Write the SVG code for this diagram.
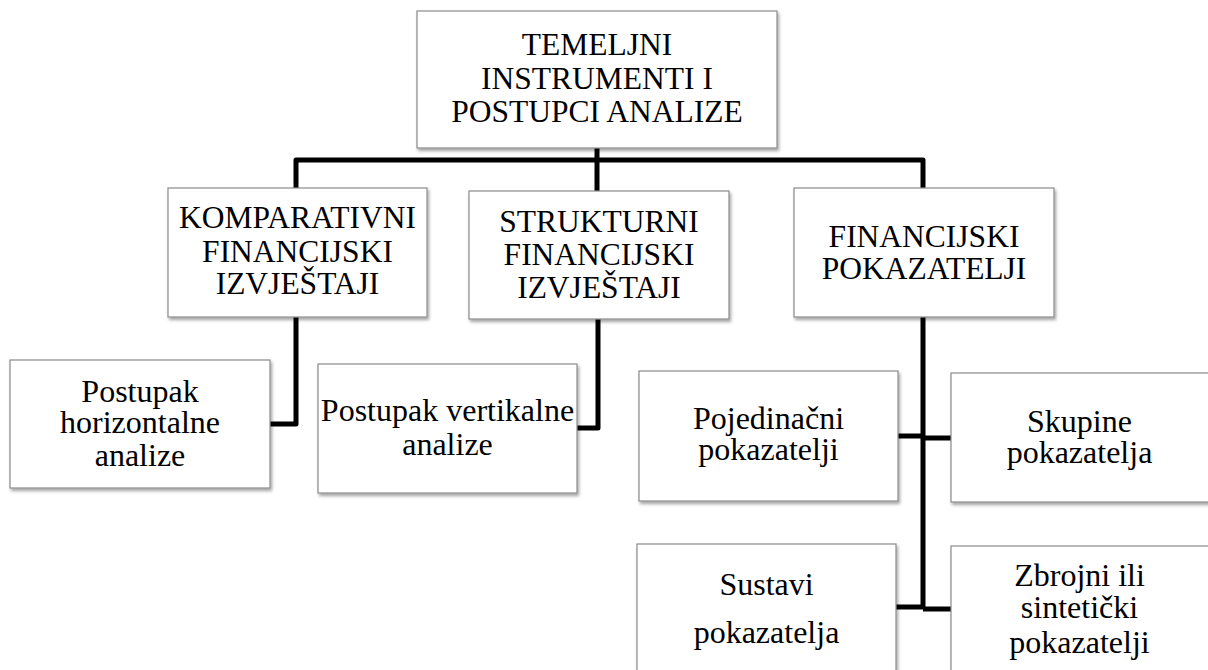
<svg xmlns="http://www.w3.org/2000/svg" width="1208" height="670" viewBox="0 0 1208 670">
<defs>
<filter id="sh" x="-10%" y="-10%" width="120%" height="130%">
<feDropShadow dx="1.5" dy="2.5" stdDeviation="1.5" flood-color="#000" flood-opacity="0.35"/>
</filter>
<style>
.box{fill:#fff;stroke:#8a8a8a;stroke-width:1.2;filter:url(#sh);}
.t{font-family:"Liberation Serif","Times New Roman",serif;font-size:31.5px;fill:#000;text-anchor:middle;}
.l{font-size:32px;}
.c{fill:none;stroke:#000;stroke-width:5;stroke-linejoin:round;}
</style>
</defs>
<rect width="1208" height="670" fill="#fff"/>
<g id="connectors">
<path class="c" d="M296,188 V160 H923 V188"/>
<path class="c" d="M597,148 V191"/>
<path class="c" d="M296,317 V424 H270"/>
<path class="c" d="M598,319 V428 H577"/>
<path class="c" d="M923,317 V608"/>
<path class="c" d="M898,436 H923"/>
<path class="c" d="M923,438 H951"/>
<path class="c" d="M896,607 H923"/>
<path class="c" d="M923,609 H951"/>
</g>
<g id="n-top">
<rect class="box" x="417" y="11" width="360" height="137"/>
<text class="t" x="597" y="55">TEMELJNI</text>
<text class="t" x="597" y="89">INSTRUMENTI I</text>
<text class="t" x="597" y="122">POSTUPCI ANALIZE</text>
</g>
<g id="n-komparativni">
<rect class="box" x="168" y="188" width="259" height="129"/>
<text class="t" x="297.5" y="228">KOMPARATIVNI</text>
<text class="t" x="297.5" y="262">FINANCIJSKI</text>
<text class="t" x="297.5" y="294">IZVJEŠTAJI</text>
</g>
<g id="n-strukturni">
<rect class="box" x="469" y="191" width="260" height="128"/>
<text class="t" x="599" y="232">STRUKTURNI</text>
<text class="t" x="599" y="265">FINANCIJSKI</text>
<text class="t" x="599" y="298">IZVJEŠTAJI</text>
</g>
<g id="n-financijski">
<rect class="box" x="794" y="188" width="260" height="129"/>
<text class="t" x="924" y="247">FINANCIJSKI</text>
<text class="t" x="924" y="279">POKAZATELJI</text>
</g>
<g id="n-horizontalne">
<rect class="box" x="10" y="360" width="260" height="128"/>
<text class="t l" x="140" y="402">Postupak</text>
<text class="t l" x="140" y="433">horizontalne</text>
<text class="t l" x="140" y="466">analize</text>
</g>
<g id="n-vertikalne">
<rect class="box" x="318" y="364" width="259" height="129"/>
<text class="t l" x="447.5" y="421">Postupak vertikalne</text>
<text class="t l" x="447.5" y="455">analize</text>
</g>
<g id="n-pojedinacni">
<rect class="box" x="639" y="371" width="259" height="130"/>
<text class="t l" x="768.5" y="429">Pojedinačni</text>
<text class="t l" x="768.5" y="460">pokazatelji</text>
</g>
<g id="n-skupine">
<rect class="box" x="951" y="373" width="262" height="129"/>
<text class="t l" x="1079.5" y="432">Skupine</text>
<text class="t l" x="1079.5" y="463">pokazatelja</text>
</g>
<g id="n-sustavi">
<rect class="box" x="637" y="544" width="259" height="140"/>
<text class="t l" x="766.5" y="595">Sustavi</text>
<text class="t l" x="766.5" y="643">pokazatelja</text>
</g>
<g id="n-zbrojni">
<rect class="box" x="951" y="546" width="262" height="140"/>
<text class="t l" x="1079.5" y="586">Zbrojni ili</text>
<text class="t l" x="1079.5" y="618">sintetički</text>
<text class="t l" x="1079.5" y="653">pokazatelji</text>
</g>
</svg>
